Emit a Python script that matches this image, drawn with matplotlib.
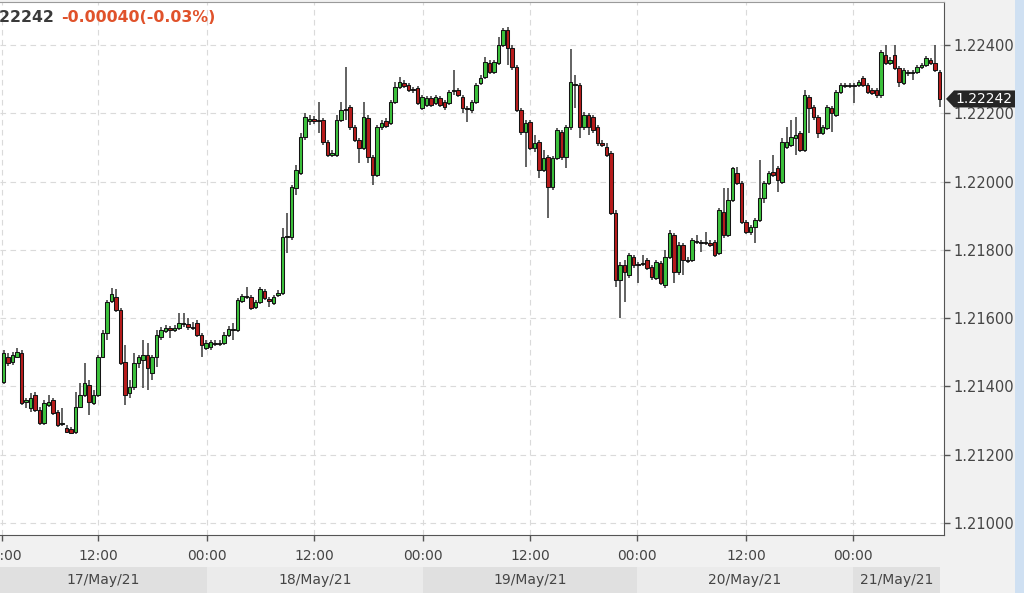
import matplotlib
matplotlib.use("Agg")
import matplotlib.pyplot as plt
import numpy as np
from matplotlib.patches import Rectangle, Polygon
from matplotlib.transforms import blended_transform_factory

# ---------------- data (EUR/USD 30-minute candles, 17-21 May 2021) ----------------
opens = [
    1.21413, 1.21487, 1.21472, 1.21487, 1.21498, 1.21355, 1.21337, 1.21375, 1.21331, 1.21293,
    1.21346, 1.21361, 1.21326, 1.21290, 1.21279, 1.21276, 1.21267, 1.21340, 1.21375, 1.21405,
    1.21352, 1.21375, 1.21487, 1.21557, 1.21650, 1.21662, 1.21624, 1.21472, 1.21381, 1.21399,
    1.21469, 1.21478, 1.21492, 1.21440, 1.21487, 1.21545, 1.21563, 1.21571, 1.21566, 1.21571,
    1.21583, 1.21583, 1.21574, 1.21586, 1.21551, 1.21513, 1.21516, 1.21528, 1.21525, 1.21528,
    1.21551, 1.21566, 1.21566, 1.21650, 1.21662, 1.21662, 1.21633, 1.21648, 1.21680, 1.21656,
    1.21645, 1.21668, 1.21674, 1.21838, 1.21838, 1.21981, 1.22025, 1.22131, 1.22178, 1.22183,
    1.22180, 1.22180, 1.22116, 1.22078, 1.22078, 1.22180, 1.22213, 1.22219, 1.22160, 1.22122,
    1.22098, 1.22186, 1.22072, 1.22019, 1.22160, 1.22178, 1.22172, 1.22233, 1.22277, 1.22289,
    1.22283, 1.22271, 1.22274, 1.22216, 1.22224, 1.22245, 1.22230, 1.22245, 1.22233, 1.22230,
    1.22268, 1.22268, 1.22248, 1.22213, 1.22210, 1.22233, 1.22289, 1.22306, 1.22347, 1.22321,
    1.22347, 1.22400, 1.22444, 1.22391, 1.22336, 1.22210, 1.22145, 1.22175, 1.22098, 1.22116,
    1.22034, 1.22072, 1.21984, 1.22069, 1.22145, 1.22072, 1.22160, 1.22286, 1.22283, 1.22160,
    1.22195, 1.22189, 1.22160, 1.22113, 1.22101, 1.22084, 1.21908, 1.21712, 1.21756, 1.21727,
    1.21779, 1.21759, 1.21759, 1.21770, 1.21750, 1.21718, 1.21762, 1.21697, 1.21779, 1.21844,
    1.21735, 1.21814, 1.21770, 1.21770, 1.21823, 1.21823, 1.21820, 1.21820, 1.21823, 1.21791,
    1.21911, 1.21844, 1.21946, 1.22025, 1.21996, 1.21882, 1.21853, 1.21867, 1.21888, 1.21952,
    1.21996, 1.22028, 1.22040, 1.21999, 1.22101, 1.22107, 1.22128, 1.22142, 1.22093, 1.22248,
    1.22219, 1.22189, 1.22142, 1.22157, 1.22216, 1.22195, 1.22262, 1.22283, 1.22280, 1.22283,
    1.22283, 1.22303, 1.22283, 1.22268, 1.22268, 1.22254, 1.22371, 1.22347, 1.22371, 1.22333,
    1.22289, 1.22321, 1.22318, 1.22321, 1.22336, 1.22341, 1.22356, 1.22347, 1.22321,
]
closes = [
    1.21498, 1.21469, 1.21492, 1.21501, 1.21352, 1.21361, 1.21366, 1.21331, 1.21293, 1.21352,
    1.21355, 1.21323, 1.21287, 1.21293, 1.21267, 1.21264, 1.21340, 1.21375, 1.21410, 1.21355,
    1.21375, 1.21487, 1.21557, 1.21648, 1.21671, 1.21624, 1.21469, 1.21375, 1.21399, 1.21469,
    1.21487, 1.21492, 1.21454, 1.21487, 1.21551, 1.21566, 1.21571, 1.21566, 1.21571, 1.21586,
    1.21586, 1.21574, 1.21571, 1.21551, 1.21522, 1.21528, 1.21530, 1.21525, 1.21528, 1.21551,
    1.21568, 1.21568, 1.21653, 1.21665, 1.21665, 1.21630, 1.21648, 1.21686, 1.21659, 1.21650,
    1.21662, 1.21674, 1.21838, 1.21841, 1.21984, 1.22034, 1.22131, 1.22189, 1.22183, 1.22178,
    1.22178, 1.22116, 1.22078, 1.22084, 1.22180, 1.22210, 1.22210, 1.22160, 1.22122, 1.22098,
    1.22189, 1.22072, 1.22019, 1.22160, 1.22172, 1.22163, 1.22233, 1.22277, 1.22292, 1.22280,
    1.22268, 1.22268, 1.22230, 1.22248, 1.22245, 1.22224, 1.22248, 1.22224, 1.22219, 1.22262,
    1.22265, 1.22254, 1.22216, 1.22216, 1.22233, 1.22283, 1.22303, 1.22350, 1.22321, 1.22350,
    1.22400, 1.22444, 1.22391, 1.22336, 1.22210, 1.22145, 1.22172, 1.22098, 1.22113, 1.22034,
    1.22069, 1.21984, 1.22069, 1.22151, 1.22072, 1.22160, 1.22292, 1.22283, 1.22160, 1.22195,
    1.22160, 1.22151, 1.22113, 1.22107, 1.22078, 1.21908, 1.21712, 1.21756, 1.21735, 1.21785,
    1.21756, 1.21756, 1.21762, 1.21747, 1.21721, 1.21765, 1.21703, 1.21779, 1.21850, 1.21735,
    1.21814, 1.21770, 1.21768, 1.21829, 1.21826, 1.21820, 1.21823, 1.21814, 1.21785, 1.21917,
    1.21844, 1.21946, 1.22040, 1.21996, 1.21882, 1.21853, 1.21867, 1.21888, 1.21952, 1.21996,
    1.22025, 1.22019, 1.22005, 1.22116, 1.22116, 1.22131, 1.22137, 1.22093, 1.22254, 1.22216,
    1.22189, 1.22142, 1.22160, 1.22219, 1.22201, 1.22262, 1.22283, 1.22280, 1.22283, 1.22280,
    1.22292, 1.22283, 1.22262, 1.22260, 1.22254, 1.22380, 1.22347, 1.22356, 1.22333, 1.22292,
    1.22327, 1.22318, 1.22321, 1.22336, 1.22341, 1.22362, 1.22347, 1.22327, 1.22242,
]
highs = [
    1.21507, 1.21498, 1.21501, 1.21513, 1.21507, 1.21366, 1.21381, 1.21384, 1.21340, 1.21361,
    1.21375, 1.21366, 1.21331, 1.21337, 1.21287, 1.21282, 1.21384, 1.21410, 1.21469, 1.21419,
    1.21390, 1.21492, 1.21566, 1.21653, 1.21689, 1.21686, 1.21630, 1.21522, 1.21419, 1.21498,
    1.21492, 1.21536, 1.21528, 1.21492, 1.21566, 1.21574, 1.21580, 1.21577, 1.21580, 1.21615,
    1.21615, 1.21601, 1.21589, 1.21595, 1.21557, 1.21536, 1.21536, 1.21536, 1.21536, 1.21560,
    1.21577, 1.21586, 1.21659, 1.21671, 1.21692, 1.21668, 1.21653, 1.21692, 1.21686, 1.21662,
    1.21668, 1.21683, 1.21864, 1.21908, 1.21990, 1.22049, 1.22142, 1.22201, 1.22195, 1.22192,
    1.22233, 1.22186, 1.22122, 1.22093, 1.22195, 1.22233, 1.22336, 1.22224, 1.22166, 1.22128,
    1.22233, 1.22195, 1.22078, 1.22166, 1.22180, 1.22186, 1.22239, 1.22292, 1.22306, 1.22298,
    1.22289, 1.22277, 1.22280, 1.22254, 1.22251, 1.22251, 1.22254, 1.22251, 1.22239, 1.22268,
    1.22327, 1.22274, 1.22254, 1.22221, 1.22239, 1.22289, 1.22312, 1.22365, 1.22356, 1.22356,
    1.22423, 1.22450, 1.22453, 1.22400, 1.22341, 1.22216, 1.22180, 1.22180, 1.22137, 1.22122,
    1.22093, 1.22078, 1.22075, 1.22157, 1.22151, 1.22166, 1.22388, 1.22312, 1.22289, 1.22204,
    1.22201, 1.22195, 1.22166, 1.22122, 1.22113, 1.22090, 1.21917, 1.21765, 1.21770, 1.21791,
    1.21785, 1.21765, 1.21785, 1.21776, 1.21756, 1.21770, 1.21768, 1.21800, 1.21858, 1.21850,
    1.21823, 1.21820, 1.21779, 1.21835, 1.21844, 1.21829, 1.21853, 1.21829, 1.21829, 1.21923,
    1.21981, 1.21981, 1.22043, 1.22043, 1.22002, 1.21888, 1.21873, 1.21894, 1.22063, 1.22002,
    1.22031, 1.22078, 1.22046, 1.22128, 1.22160, 1.22180, 1.22189, 1.22148, 1.22268, 1.22254,
    1.22224, 1.22195, 1.22166, 1.22224, 1.22221, 1.22268, 1.22289, 1.22289, 1.22289, 1.22289,
    1.22298, 1.22309, 1.22289, 1.22274, 1.22274, 1.22385, 1.22400, 1.22365, 1.22400, 1.22339,
    1.22333, 1.22327, 1.22327, 1.22341, 1.22347, 1.22368, 1.22362, 1.22400, 1.22327,
]
lows = [
    1.21407, 1.21460, 1.21463, 1.21484, 1.21346, 1.21337, 1.21326, 1.21326, 1.21287, 1.21287,
    1.21340, 1.21317, 1.21282, 1.21285, 1.21264, 1.21261, 1.21261, 1.21337, 1.21369, 1.21317,
    1.21346, 1.21369, 1.21484, 1.21536, 1.21645, 1.21618, 1.21463, 1.21346, 1.21366, 1.21390,
    1.21454, 1.21396, 1.21390, 1.21419, 1.21457, 1.21536, 1.21557, 1.21542, 1.21560, 1.21566,
    1.21574, 1.21566, 1.21566, 1.21545, 1.21487, 1.21507, 1.21507, 1.21519, 1.21519, 1.21522,
    1.21545, 1.21536, 1.21560, 1.21645, 1.21656, 1.21624, 1.21627, 1.21642, 1.21653, 1.21633,
    1.21639, 1.21662, 1.21668, 1.21791, 1.21829, 1.21961, 1.22019, 1.22122, 1.22166, 1.22169,
    1.22142, 1.22107, 1.22072, 1.22072, 1.22072, 1.22175, 1.22180, 1.22151, 1.22116, 1.22055,
    1.22093, 1.22055, 1.21990, 1.22014, 1.22151, 1.22157, 1.22166, 1.22227, 1.22271, 1.22274,
    1.22262, 1.22260, 1.22224, 1.22210, 1.22219, 1.22219, 1.22224, 1.22219, 1.22210, 1.22224,
    1.22254, 1.22248, 1.22201, 1.22175, 1.22201, 1.22227, 1.22283, 1.22300, 1.22315, 1.22315,
    1.22341, 1.22394, 1.22341, 1.22327, 1.22204, 1.22137, 1.22043, 1.22093, 1.22087, 1.22011,
    1.22028, 1.21894, 1.21975, 1.22063, 1.22063, 1.22040, 1.22151, 1.22216, 1.22128, 1.22151,
    1.22137, 1.22142, 1.22104, 1.22101, 1.22072, 1.21902, 1.21692, 1.21601, 1.21648, 1.21718,
    1.21747, 1.21703, 1.21753, 1.21741, 1.21712, 1.21712, 1.21697, 1.21689, 1.21773, 1.21703,
    1.21727, 1.21727, 1.21762, 1.21765, 1.21817, 1.21794, 1.21814, 1.21809, 1.21779, 1.21785,
    1.21835, 1.21838, 1.21940, 1.21990, 1.21876, 1.21847, 1.21844, 1.21820, 1.21882, 1.21937,
    1.21990, 1.22014, 1.21970, 1.21993, 1.22096, 1.22101, 1.22078, 1.22087, 1.22087, 1.22142,
    1.22180, 1.22128, 1.22137, 1.22151, 1.22145, 1.22189, 1.22257, 1.22274, 1.22274, 1.22230,
    1.22277, 1.22277, 1.22257, 1.22254, 1.22245, 1.22245, 1.22341, 1.22341, 1.22327, 1.22277,
    1.22283, 1.22309, 1.22298, 1.22315, 1.22330, 1.22336, 1.22341, 1.22321, 1.22219,
]

time_tick_pos = [-0.33, 21, 45.2, 69, 93.2, 117, 140.8, 165, 188.8]
time_tick_labels = ["00:00", "12:00", "00:00", "12:00", "00:00", "12:00", "00:00", "12:00", "00:00"]
day_bounds = [-0.78, 45.2, 93.2, 140.8, 188.8, 208.1]
day_labels = ["17/May/21", "18/May/21", "19/May/21", "20/May/21", "21/May/21"]
price_ticks = [1.210, 1.212, 1.214, 1.216, 1.218, 1.220, 1.222, 1.224]
last_price = 1.22242
change_text = "-0.00040(-0.03%)"

# ---------------- figure ----------------
W, H = 1024, 593
fig = plt.figure(figsize=(W / 100, H / 100), dpi=100, facecolor="#f1f1f1")
ax = fig.add_axes([0, (H - 535) / H, 944 / W, 533 / H])
ax.set_facecolor("white")
ax.set_xlim(-0.78, 209.0)
ax.set_ylim(1.209649, 1.225259)

# grid
ax.set_axisbelow(True)
ax.grid(True, color="#dadada", linestyle=(0, (5, 4)), linewidth=0.8)

# candles
o = np.array(opens)
c = np.array(closes)
h = np.array(highs)
l = np.array(lows)
x = np.arange(len(o))
up = c >= o
ax.vlines(x, l, h, color="#383838", linewidth=1.1, zorder=2)
bottoms = np.minimum(o, c)
heights = np.abs(c - o)
colors = np.where(up, "#3cc23c", "#b81c1c")
ax.bar(x, heights, bottom=bottoms, width=0.82, color=colors,
       edgecolor="#141414", linewidth=0.75, zorder=3)

# axes styling
ax.spines["left"].set_visible(False)
ax.spines["right"].set_color("#555555")
ax.spines["bottom"].set_color("#555555")
ax.spines["top"].set_color("#9a9a9a")
ax.yaxis.tick_right()
ax.set_yticks(price_ticks)
ax.set_yticklabels([f"{v:.5f}" for v in price_ticks])
ax.tick_params(axis="y", length=4, width=1, colors="#555555", labelcolor="#454545",
               labelsize=10.5, pad=2.5)
ax.set_xticks(time_tick_pos)
ax.set_xticklabels(time_tick_labels)
ax.tick_params(axis="x", length=4, width=1, colors="#555555", labelcolor="#454545",
               labelsize=10, pad=6)

# date band under the time axis
btrans = blended_transform_factory(ax.transData, fig.transFigure)
band_cols = ["#e0e0e0", "#ebebeb", "#e0e0e0", "#ebebeb", "#e0e0e0"]
for i, lab in enumerate(day_labels):
    x0, x1 = day_bounds[i], day_bounds[i + 1]
    ax.add_patch(Rectangle((x0, 0), x1 - x0, 26 / H, transform=btrans, clip_on=False,
                           facecolor=band_cols[i], edgecolor="none", zorder=0))
    ax.text((x0 + x1) / 2, 13 / H, lab, transform=btrans, ha="center", va="center",
            fontsize=10, color="#454545", clip_on=False)

# right light-blue strip
fig.add_artist(Rectangle((1015 / W, 0), 9 / W, 1, transform=fig.transFigure,
                         facecolor="#cfe0f2", edgecolor="none"))

# current-price marker on right axis
ppx = (1.225259 - 1.209649) / 533.0
ftrans = blended_transform_factory(fig.transFigure, ax.transData)
hh = 8.5 * ppx
poly = Polygon([(946 / W, last_price), (954 / W, last_price + hh), (1015 / W, last_price + hh),
                (1015 / W, last_price - hh), (954 / W, last_price - hh)],
               closed=True, transform=ftrans, facecolor="#262626", edgecolor="none",
               clip_on=False, zorder=10)
fig.add_artist(poly)
fig.text(984 / W, last_price, f"{last_price:.5f}", transform=ftrans, ha="center",
         va="center", fontsize=10, color="white", zorder=11)

# header text (partly cut at the left edge)
ytop = 1 - 18 / H
fig.text(54 / W, ytop, f"{last_price:.5f}", ha="right", va="center", fontsize=11.3,
         fontweight="bold", color="#3a3a3a")
fig.text(61 / W, ytop, change_text, ha="left", va="center", fontsize=11.3,
         fontweight="bold", color="#e0522b")

fig.savefig("out.png", dpi=100, facecolor=fig.get_facecolor())
